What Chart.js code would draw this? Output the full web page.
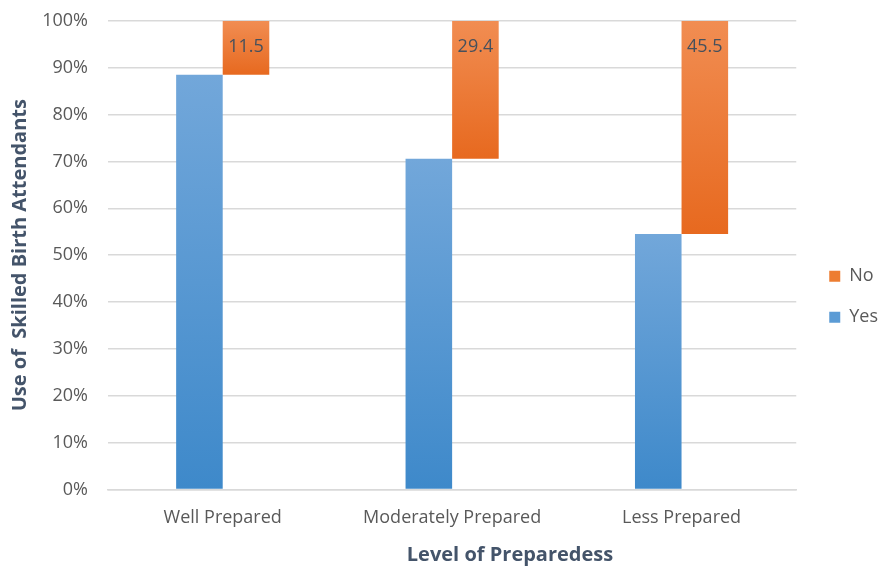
<!DOCTYPE html>
<html>
<head>
<meta charset="utf-8">
<script src="https://cdn.jsdelivr.net/npm/chart.js@4"></script>
<style>
  body { margin: 0; background: #fff; }
  #wrap { width: 878px; height: 566px; }
</style>
</head>
<body>
<div id="wrap"><canvas id="chart"></canvas></div>
<script>
let categories = ['Well Prepared', 'Moderately Prepared', 'Less Prepared']
let yesValues = [88.5, 70.6, 54.5]
let noValues = [11.5, 29.4, 45.5]
let yTicks = [0, 10, 20, 30, 40, 50, 60, 70, 80, 90, 100]

let textColor = '#595959'
let titleColor = '#44546a'
let fontName = "'Open Sans', sans-serif"

function barGradient(ctx, colorTop, colorBottom, fallback) {
    let chart = ctx.chart
    if (!chart.chartArea) return fallback
    let raw = ctx.raw
    let y0 = chart.scales.y.getPixelForValue(Array.isArray(raw) ? raw[1] : raw)
    let y1 = chart.scales.y.getPixelForValue(Array.isArray(raw) ? raw[0] : 0)
    let g = chart.ctx.createLinearGradient(0, y0, 0, y1)
    g.addColorStop(0, colorTop)
    g.addColorStop(1, colorBottom)
    return g
}

// value labels on the "No" bars
let noLabels = {
    id: 'noLabels',
    afterDatasetsDraw(chart) {
        let meta = chart.getDatasetMeta(1)
        let c = chart.ctx
        c.save()
        c.font = '18px ' + fontName
        c.fillStyle = '#46505c'
        c.textAlign = 'center'
        c.textBaseline = 'middle'
        meta.data.forEach((bar, i) => {
            c.fillText(noValues[i].toFixed(1), bar.x, bar.y + 26)
        })
        c.restore()
    }
}

// x axis title, centred under the whole figure like the original
let xTitle = {
    id: 'xTitle',
    afterDraw(chart) {
        let c = chart.ctx
        c.save()
        c.font = 'bold 20px ' + fontName
        c.fillStyle = titleColor
        c.textAlign = 'center'
        c.textBaseline = 'middle'
        c.fillText('Level of Preparedess', 510, 555)
        c.restore()
    }
}

new Chart(document.getElementById('chart').getContext('2d'), {
    type: 'bar',
    data: {
        labels: categories,
        datasets: [{
            label: 'Yes',
            data: yesValues,
            backgroundColor: ctx => barGradient(ctx, '#72a7da', '#3e89ca', '#5b9bd5'),
            borderWidth: 0
        }, {
            label: 'No',
            data: noValues.map((v, i) => [yesValues[i], yesValues[i] + v]),
            backgroundColor: ctx => barGradient(ctx, '#f18d52', '#e7691f', '#ed7d31'),
            borderWidth: 0
        }]
    },
    options: {
        responsive: true,
        maintainAspectRatio: false,
        animation: false,
        layout: { padding: { top: 21, bottom: 27, left: 8, right: -10 } },
        datasets: {
            bar: { categoryPercentage: 0.406, barPercentage: 1, grouped: true }
        },
        plugins: {
            legend: {
                position: 'right',
                reverse: true,
                title: { display: true, text: '', padding: { top: 19 } },
                labels: {
                    boxWidth: 11,
                    boxHeight: 11,
                    padding: 23,
                    color: textColor,
                    font: { family: fontName, size: 18 },
                    generateLabels(chart) {
                        let fills = ['#5b9bd5', '#ed7d31']
                        return chart.data.datasets.map((d, i) => ({
                            text: d.label,
                            fillStyle: fills[i],
                            strokeStyle: fills[i],
                            lineWidth: 0,
                            datasetIndex: i,
                            fontColor: textColor
                        }))
                    }
                }
            },
            tooltip: { enabled: false }
        },
        scales: {
            x: {
                grid: { display: false },
                border: { color: '#d9d9d9', width: 1.5 },
                ticks: { color: textColor, font: { family: fontName, size: 18 }, padding: 10 }
            },
            y: {
                min: 0,
                max: 100,
                afterBuildTicks(axis) { axis.ticks = yTicks.map(v => ({ value: v })) },
                afterFit(axis) {
                    axis.width = 100
                    axis.paddingTop = 0
                    axis.paddingBottom = 0
                },
                grid: { color: '#d9d9d9', lineWidth: 1.5, drawTicks: false },
                border: { display: false },
                ticks: {
                    color: textColor,
                    font: { family: fontName, size: 18 },
                    padding: 20,
                    callback: v => v + '%'
                },
                title: {
                    display: true,
                    text: 'Use of  Skilled Birth Attendants',
                    color: titleColor,
                    font: { family: fontName, size: 20, weight: 'bold' },
                    padding: { top: 0, bottom: 0 }
                }
            },
            gap: {
                position: 'right',
                display: true,
                grid: { display: false },
                border: { display: false },
                ticks: { display: false },
                afterFit(axis) { axis.width = 10 }
            }
        }
    },
    plugins: [noLabels, xTitle]
})
</script>
</body>
</html>
